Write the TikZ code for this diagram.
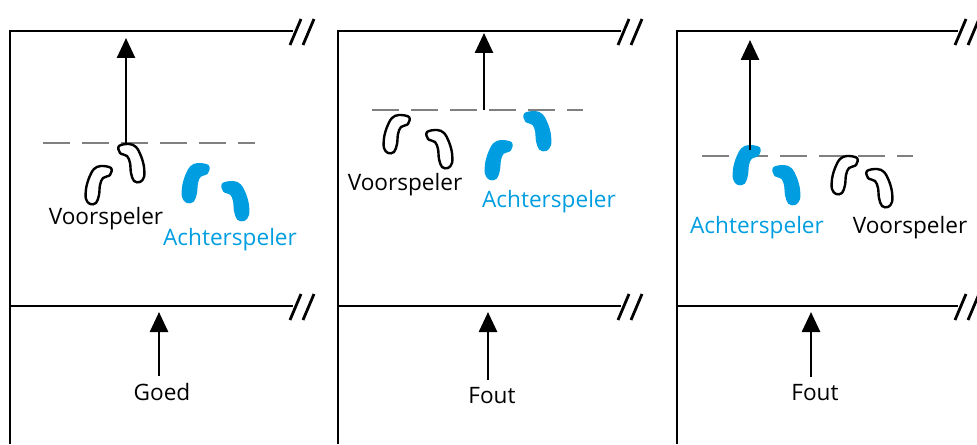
\documentclass[tikz,border=0pt]{standalone}
\usepackage{fontspec}
\setmainfont{Open Sans}
\usetikzlibrary{arrows.meta}
\definecolor{blauw}{RGB}{0,158,224}
\begin{document}
\begin{tikzpicture}[x=0.5pt,y=-0.5pt,
	lijn/.style={line width=1.3pt},
	pijl/.style={line width=1.3pt,-{Triangle[width=9pt,length=10pt]}},
	streep/.style={gray,line width=1.4pt,dash pattern=on 13.5pt off 6pt},
	tekst/.style={font=\fontsize{11.3}{13}\selectfont,inner sep=0pt,anchor=base},
	zwart/.style={draw=black,line width=1.2pt},
	vol/.style={fill=blauw,draw=blauw,line width=1pt},
	voet/.pic={\path[pic actions] plot[smooth cycle,tension=0.6] coordinates {(12,-17) (2,-19) (-5,-16) (-10,-7) (-13,4) (-13,14) (-9,19) (-3,18) (0,10) (1,0) (4,-7) (11,-10)};},
	breuk/.pic={\draw[line width=1.4pt] (-3,14) -- (8,-12) (10,14) -- (21,-12);}]
	\useasboundingbox (0,0) rectangle (977,444);
	\foreach \x/\e in {10/293,338/621,677/958} {
		\draw[lijn] (\x,444) -- (\x,31) -- (\e,31);
		\draw[lijn] (\x,306) -- (\e,306);
		\pic at (\e,31) {breuk};
		\pic at (\e,306) {breuk};
	}
	\draw[streep] (43,143) -- (255,143);
	\draw[streep] (372,110) -- (583,110);
	\draw[streep] (702,156) -- (913,156);
	\pic[zwart] at (99,185) {voet};
	\pic[zwart,xscale=-1] at (131,163) {voet};
	\pic[vol] at (196,183) {voet};
	\pic[vol,xscale=-1] at (235,201) {voet};
	\pic[zwart] at (397,134) {voet};
	\pic[zwart,xscale=-1] at (439,149) {voet};
	\pic[vol] at (499,160) {voet};
	\pic[vol,xscale=-1] at (537,131) {voet};
	\pic[vol] at (747,165) {voet};
	\pic[vol,xscale=-1] at (786,185) {voet};
	\pic[zwart] at (845,175) {voet};
	\pic[zwart,xscale=-1] at (879,188) {voet};
	\node [tekst] at (106,224) (voor1) {Voorspeler};
	\node [tekst,text=blauw] at (230,245) (achter1) {Achterspeler};
	\node [tekst] at (405,190) (voor2) {Voorspeler};
	\node [tekst,text=blauw] at (549,207) (achter2) {Achterspeler};
	\node [tekst,text=blauw] at (757,233) (achter3) {Achterspeler};
	\node [tekst] at (910,233) (voor3) {Voorspeler};
	\node [tekst] at (162,400) (goed) {Goed};
	\node [tekst] at (492,403) (fout2) {Fout};
	\node [tekst] at (815,400) (fout3) {Fout};
	\coordinate (start1) at (126,143);
	\coordinate (doel1) at (126,38);
	\coordinate (start2) at (484,110);
	\coordinate (doel2) at (484,33);
	\coordinate (start3) at (750,150);
	\coordinate (doel3) at (750,40);
	\coordinate (lijn1) at (159,312);
	\coordinate (lijn2) at (488,312);
	\coordinate (lijn3) at (811,312);
	\draw[pijl] (start1) -- (doel1);
	\draw[pijl] (start2) -- (doel2);
	\draw[pijl] (start3) -- (doel3);
	\draw[pijl,shorten <=3pt] (goed.north -| lijn1) -- (lijn1);
	\draw[pijl,shorten <=3pt] (fout2.north -| lijn2) -- (lijn2);
	\draw[pijl,shorten <=3pt] (fout3.north -| lijn3) -- (lijn3);
\end{tikzpicture}
\end{document}
